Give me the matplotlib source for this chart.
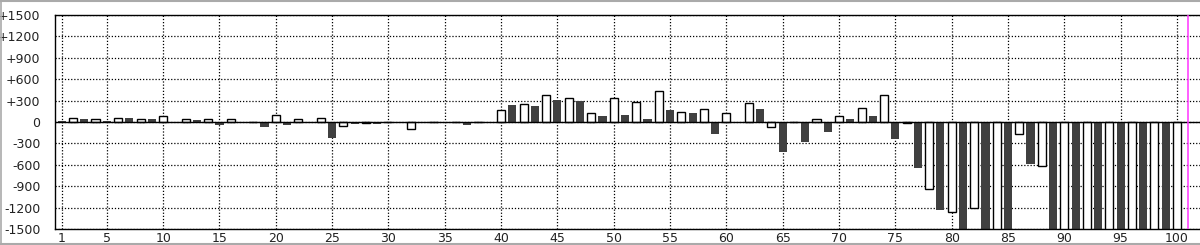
import numpy as np
import matplotlib
matplotlib.use("Agg")
import matplotlib.pyplot as plt
from matplotlib.lines import Line2D

# bar values, index 1..100 (bars past -1500 are clipped)
days = list(range(1, 101))
values = [
    20, 60, 40, 40, 20, 60, 60, 40, 45, 85,
    0, 40, 25, 40, -40, 40, 0, 0, -65, 105,
    -40, 40, 0, 60, -220, -60, -25, -15, -25, 0,
    0, -100, 0, 0, 0, 0, -40, 0, 0, 165,
    240, 255, 225, 380, 305, 340, 290, 120, 90, 340,
    105, 285, 45, 440, 170, 140, 125, 180, -165, 125,
    0, 260, 185, -65, -420, 0, -285, 45, -145, 90,
    45, 200, 90, 380, -245, -20, -640, -935, -1235, -1255,
    -1700, -1200, -1700, -1700, -1700, -165, -595, -615, -1700, -1700,
    -1700, -1700, -1700, -1700, -1700, -1700, -1700, -1700, -1700, -1700,
]
y_ticks = [1500, 1200, 900, 600, 300, 0, -300, -600, -900, -1200, -1500]
y_labels = ["+1500", "+1200", "+900", "+600", "+300", "0",
            "-300", "-600", "-900", "-1200", "-1500"]
x_ticks = [1, 5, 10, 15, 20, 25, 30, 35, 40, 45, 50,
           55, 60, 65, 70, 75, 80, 85, 90, 95, 100]
marker_day = 101

W, H = 1200, 245
fig = plt.figure(figsize=(W / 100, H / 100), dpi=100)
ax = fig.add_axes([55 / W, 1 - 229 / H, 1144.5 / W, 214 / H])

days_arr = np.array(days)
vals_arr = np.array(values)
odd = days_arr % 2 == 1
# odd days dark, even days white with black outline
ax.bar(days_arr[odd], vals_arr[odd], width=0.72, color="#404040",
       edgecolor="none", zorder=2)
ax.bar(days_arr[~odd], vals_arr[~odd], width=0.72, color="white",
       edgecolor="black", linewidth=1.0, zorder=2)

ax.axhline(0, color="black", linewidth=1.0, zorder=3)
ax.axvline(marker_day, color="#ff33ff", linewidth=1.1, zorder=4)

ax.set_xlim(0.4, 102.0)
ax.set_ylim(-1500, 1500)
ax.set_yticks(y_ticks)
ax.set_yticklabels(y_labels)
ax.set_xticks(x_ticks)
ax.set_xticklabels([str(t) for t in x_ticks])

ax.grid(True, color="black", linestyle=(0, (1, 1.5)), linewidth=0.9, zorder=0)
ax.set_axisbelow(True)
ax.tick_params(axis="y", length=0, pad=10.5, labelsize=9, labelcolor="#222222")
ax.tick_params(axis="x", length=0, pad=2, labelsize=9, labelcolor="#222222")
for s in ax.spines.values():
    s.set_linewidth(1.0)
ax.spines["right"].set_visible(False)

# thin grey frame around the picture
fig.add_artist(Line2D([0.5 / W, 0.5 / W], [0, 1], color="#aaaaaa", lw=1.2))
fig.add_artist(Line2D([0, 1], [1 - 1 / H, 1 - 1 / H], color="#aaaaaa", lw=1.5))
fig.add_artist(Line2D([0, 1], [1.5 / H, 1.5 / H], color="#aaaaaa", lw=1.5))

fig.savefig("out.png", dpi=100)
